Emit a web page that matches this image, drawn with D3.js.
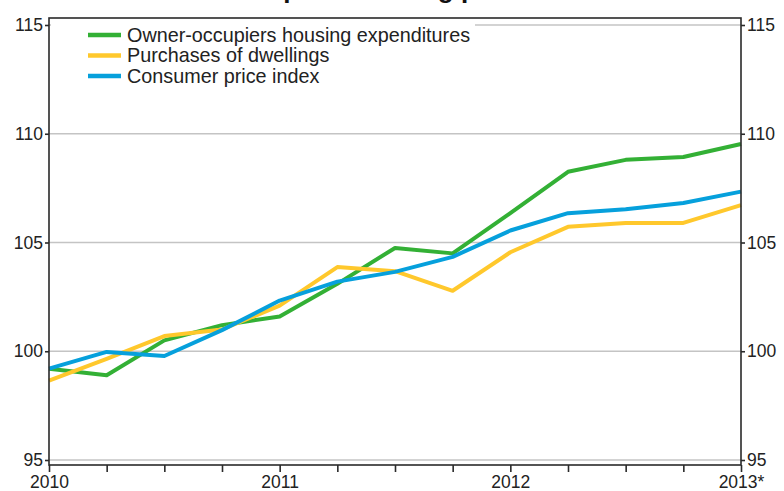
<!DOCTYPE html>
<html>
<head>
<meta charset="utf-8">
<script src="https://cdn.jsdelivr.net/npm/d3@7"></script>
<style>
  body { margin: 0; background: #fff; }
  svg { display: block; font-family: "Liberation Sans", Arial, sans-serif; }
</style>
</head>
<body>
<svg id="chart" width="784" height="491"></svg>
<script>
// quarterly index values, 2010 Q1 .. 2013 Q1
const quarters = ["2010Q1","2010Q2","2010Q3","2010Q4","2011Q1","2011Q2","2011Q3","2011Q4",
                  "2012Q1","2012Q2","2012Q3","2012Q4","2013Q1"];
const yearLabels = ["2010", "2011", "2012", "2013*"];
const yTicks = [95, 100, 105, 110, 115];

const ownerOccupiers = [99.2, 98.9, 100.5, 101.2, 101.6, 103.1, 104.75, 104.5, 106.35, 108.25, 108.8, 108.93, 109.53];
const purchases = [98.65, 99.65, 100.7, 101.0, 102.1, 103.87, 103.68, 102.78, 104.55, 105.72, 105.9, 105.9, 106.72];
const cpi = [99.2, 99.97, 99.78, 100.97, 102.33, 103.2, 103.65, 104.34, 105.55, 106.35, 106.53, 106.82, 107.34];

const series = [
  {name: "Owner-occupiers housing expenditures", values: ownerOccupiers, color: "#33b035"},
  {name: "Purchases of dwellings", values: purchases, color: "#ffc82c"},
  {name: "Consumer price index", values: cpi, color: "#06a0dc"}
];

const svg = d3.select("#chart");

const plotLeft = 49, plotRight = 741, plotTop = 18, plotBottom = 465;

const x = d3.scaleLinear().domain([0, quarters.length - 1]).range([plotLeft, plotRight]);
const y = d3.scaleLinear().domain([95, 115]).range([460, 25]);

// title (cut off at the top edge, only descenders show)
svg.append("text")
  .attr("x", 133).attr("y", -2.5)
  .attr("font-size", 26).attr("font-weight", "bold")
  .attr("fill", "#111")
  .text("Owner-occupiers housing prices");

// gridlines
svg.append("g").selectAll("line")
  .data(yTicks).enter().append("line")
  .attr("x1", plotLeft).attr("x2", plotRight)
  .attr("y1", d => y(d)).attr("y2", d => y(d))
  .attr("stroke", "#c4c4c4").attr("stroke-width", 1.5);

// lines
let line = d3.line()
  .x((d, i) => x(i))
  .y(d => y(d));

svg.append("g").selectAll("path")
  .data(series).enter().append("path")
  .attr("d", d => line(d.values))
  .attr("fill", "none")
  .attr("stroke", d => d.color)
  .attr("stroke-width", 4)
  .attr("stroke-linejoin", "round");

// legend with white background
let legend = svg.append("g");
legend.append("rect")
  .attr("x", 51).attr("y", 20).attr("width", 424).attr("height", 68)
  .attr("fill", "#fff");
let item = legend.selectAll(".item")
  .data(series).enter().append("g")
  .attr("class", "item")
  .attr("transform", (d, i) => "translate(88," + (35 + i * 20.5) + ")");
item.append("line")
  .attr("x1", 0).attr("x2", 33)
  .attr("stroke", d => d.color).attr("stroke-width", 4.5);
item.append("text")
  .attr("x", 39).attr("dy", "0.35em")
  .attr("font-size", 19.8).attr("fill", "#222")
  .text(d => d.name);

// frame
svg.append("rect")
  .attr("x", plotLeft).attr("y", plotTop)
  .attr("width", plotRight - plotLeft).attr("height", plotBottom - plotTop)
  .attr("fill", "none").attr("stroke", "#2a2a2a").attr("stroke-width", 1.6);

// y axes
svg.append("g")
  .attr("transform", "translate(" + plotLeft + ",0)")
  .call(d3.axisLeft(y).tickValues(yTicks).tickSize(4).tickPadding(2).tickFormat(d3.format("d")))
  .call(g => g.select(".domain").remove());

svg.append("g")
  .attr("transform", "translate(" + plotRight + ",0)")
  .call(d3.axisRight(y).tickValues(yTicks).tickSize(4).tickPadding(2).tickFormat(d3.format("d")))
  .call(g => g.select(".domain").remove());

// x axis, quarter ticks, year labels
svg.append("g")
  .attr("transform", "translate(0," + plotBottom + ")")
  .call(d3.axisBottom(x).tickValues(d3.range(quarters.length)).tickSize(7).tickPadding(4)
    .tickFormat(i => i % 4 === 0 ? yearLabels[i / 4] : ""))
  .call(g => g.select(".domain").remove());

svg.selectAll(".tick line").attr("stroke", "#2a2a2a").attr("stroke-width", 1.6);
svg.selectAll(".tick text").attr("font-size", 17.5).attr("fill", "#222")
  .attr("font-family", "'Liberation Sans', Arial, sans-serif");
</script>
</body>
</html>
